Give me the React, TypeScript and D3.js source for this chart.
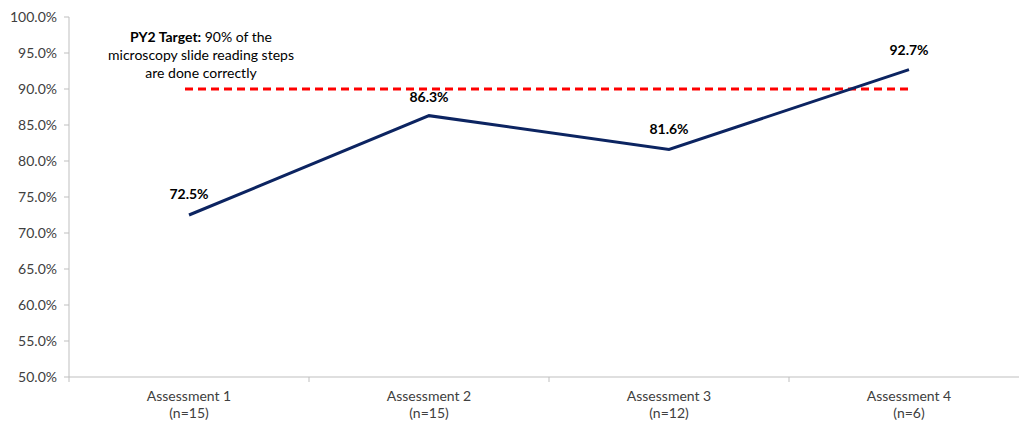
import React from "react";
import * as d3 from "d3";

const categories = ["Assessment 1", "Assessment 2", "Assessment 3", "Assessment 4"];
const sampleSizes = ["(n=15)", "(n=15)", "(n=12)", "(n=6)"];
const values = [72.5, 86.3, 81.6, 92.7];
const target = 90;
const yTicks = [50, 55, 60, 65, 70, 75, 80, 85, 90, 95, 100];
const annotationLines = ["90% of the", "microscopy slide reading steps", "are done correctly"];

export default function App() {
  const W = 1019, H = 426;
  const left = 69, right = 1029, top = 17, bottom = 377;
  const x = d3.scaleBand<string>().domain(categories).range([left, right]);
  const y = d3.scaleLinear().domain([50, 100]).range([bottom, top]);
  const cx = (c: string) => (x(c) as number) + x.bandwidth() / 2;
  const line = d3.line<number>().x((_, i) => cx(categories[i])).y((d) => y(d));
  const font = "Lato, 'Open Sans', sans-serif";
  const axisColor = "#bfbfbf";
  const boundaries = categories.map((c) => x(c) as number).concat([right]);
  const labelDy = [-16, -14, -15, -15];
  return (
    <svg width={W} height={H} style={{ position: "absolute", left: 0, top: 0, background: "#fff" }} fontFamily={font}>
      <line x1={left} x2={left} y1={top} y2={bottom} stroke={axisColor} strokeWidth={1} />
      <line x1={left} x2={W} y1={bottom} y2={bottom} stroke={axisColor} strokeWidth={1} />
      {yTicks.map((t) => (
        <g key={t}>
          <line x1={left - 5} x2={left} y1={y(t)} y2={y(t)} stroke={axisColor} />
          <text x={left - 12} y={y(t)} dy="0.35em" textAnchor="end" fontSize={14} fill="#404040">
            {t.toFixed(1)}%
          </text>
        </g>
      ))}
      {boundaries.map((b, i) => (
        <line key={i} x1={b} x2={b} y1={bottom} y2={bottom + 5} stroke={axisColor} />
      ))}
      {categories.map((c, i) => (
        <g key={c}>
          <text x={cx(c)} y={396} dy="0.35em" textAnchor="middle" fontSize={14} fill="#404040">{c}</text>
          <text x={cx(c)} y={413} dy="0.35em" textAnchor="middle" fontSize={14} fill="#404040">{sampleSizes[i]}</text>
        </g>
      ))}
      <line x1={185} x2={cx(categories[3])} y1={y(target)} y2={y(target)} stroke="#ff0000" strokeWidth={3} strokeDasharray="8,5" />
      <path d={line(values) || ""} fill="none" stroke="#0c2461" strokeWidth={3} />
      {values.map((v, i) => (
        <text key={i} x={cx(categories[i])} y={y(v) + labelDy[i]} textAnchor="middle" fontSize={14} fontWeight="bold" fill="#000">
          {v.toFixed(1)}%
        </text>
      ))}
      <text x={201} y={37} dy="0.35em" textAnchor="middle" fontSize={14} fill="#000">
        <tspan fontWeight="bold">PY2 Target: </tspan>{annotationLines[0]}
      </text>
      <text x={201} y={55} dy="0.35em" textAnchor="middle" fontSize={14} fill="#000">{annotationLines[1]}</text>
      <text x={201} y={73} dy="0.35em" textAnchor="middle" fontSize={14} fill="#000">{annotationLines[2]}</text>
    </svg>
  );
}
